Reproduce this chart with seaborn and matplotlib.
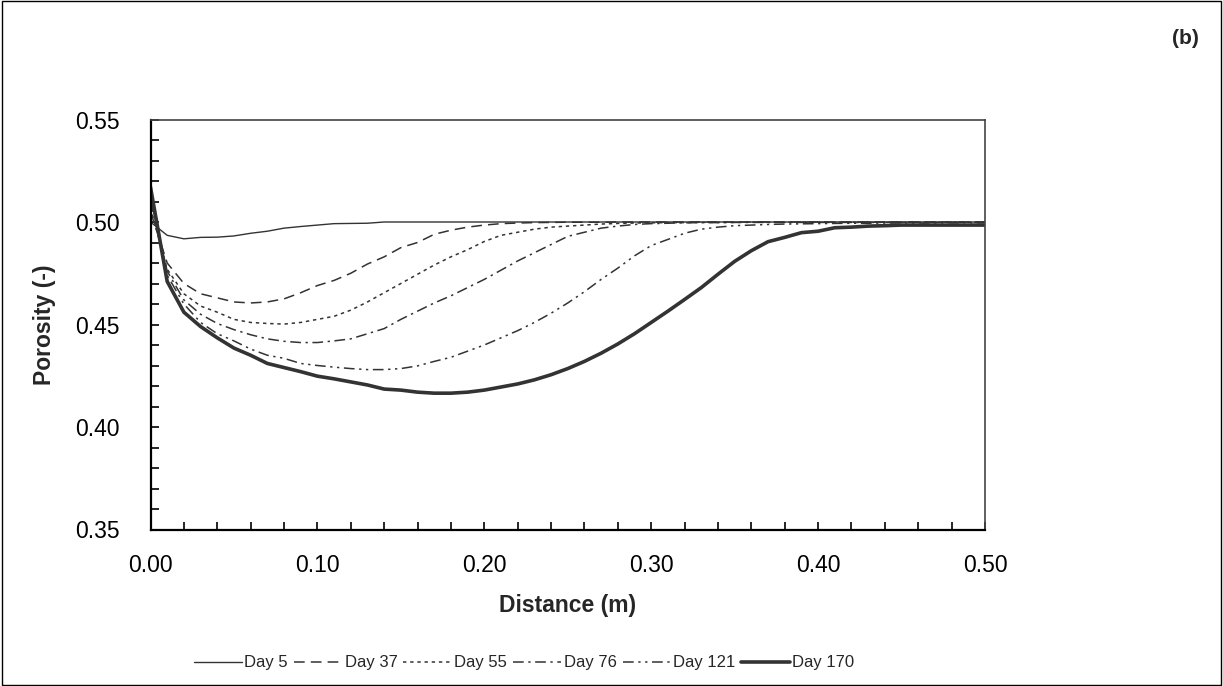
import matplotlib
matplotlib.use("Agg")
import matplotlib.pyplot as plt
import seaborn as sns
import pandas as pd
from matplotlib.ticker import MultipleLocator, FormatStrFormatter
from matplotlib.patches import Rectangle

distance = [0.00, 0.01, 0.02, 0.03, 0.04, 0.05, 0.06, 0.07, 0.08, 0.09,
            0.10, 0.11, 0.12, 0.13, 0.14, 0.15, 0.16, 0.17, 0.18, 0.19,
            0.20, 0.21, 0.22, 0.23, 0.24, 0.25, 0.26, 0.27, 0.28, 0.29,
            0.30, 0.31, 0.32, 0.33, 0.34, 0.35, 0.36, 0.37, 0.38, 0.39,
            0.40, 0.41, 0.42, 0.43, 0.44, 0.45, 0.46, 0.47, 0.48, 0.49, 0.50]

day5 = [0.500, 0.4935, 0.4918, 0.4925, 0.4926, 0.4932, 0.4945, 0.4955, 0.4970, 0.4978,
        0.4985, 0.4992, 0.4993, 0.4994, 0.5000, 0.5000, 0.5000, 0.5000, 0.5000, 0.5000,
        0.5000, 0.5000, 0.5000, 0.5000, 0.5000, 0.5000, 0.5000, 0.5000, 0.5000, 0.5000,
        0.5000, 0.5000, 0.5000, 0.5000, 0.5000, 0.5000, 0.5000, 0.5000, 0.5000, 0.5000,
        0.5000, 0.5000, 0.5000, 0.5000, 0.5000, 0.5000, 0.5000, 0.5000, 0.5000, 0.5000, 0.5000]

day37 = [0.505, 0.480, 0.470, 0.465, 0.463, 0.461, 0.4605, 0.461, 0.4625, 0.4655,
         0.469, 0.4715, 0.475, 0.4795, 0.483, 0.4875, 0.490, 0.494, 0.496, 0.4975,
         0.4985, 0.4992, 0.4995, 0.4997, 0.4998, 0.4999, 0.4999, 0.4999, 0.5000, 0.5000,
         0.5000, 0.5000, 0.5000, 0.5000, 0.5000, 0.5000, 0.5000, 0.5000, 0.5000, 0.5000,
         0.5000, 0.5000, 0.5000, 0.5000, 0.5000, 0.5000, 0.5000, 0.5000, 0.5000, 0.5000, 0.5000]

day55 = [0.507, 0.477, 0.465, 0.459, 0.456, 0.4525, 0.451, 0.4505, 0.4502, 0.451,
         0.4525, 0.454, 0.457, 0.461, 0.4655, 0.470, 0.4745, 0.479, 0.483, 0.4865,
         0.4905, 0.4935, 0.495, 0.4965, 0.4975, 0.498, 0.4985, 0.499, 0.4993, 0.4995,
         0.4996, 0.4997, 0.4997, 0.4998, 0.4998, 0.4998, 0.4999, 0.4999, 0.4999, 0.4999,
         0.4999, 0.4999, 0.4999, 0.4999, 0.4999, 0.4999, 0.4999, 0.4999, 0.4999, 0.4999, 0.4999]

day76 = [0.510, 0.476, 0.462, 0.455, 0.4505, 0.4475, 0.445, 0.443, 0.4418, 0.4412,
         0.4412, 0.442, 0.443, 0.4455, 0.448, 0.4525, 0.4565, 0.4605, 0.464, 0.468,
         0.472, 0.4765, 0.481, 0.485, 0.489, 0.493, 0.495, 0.497, 0.498, 0.4988,
         0.4992, 0.4994, 0.4996, 0.4997, 0.4997, 0.4998, 0.4998, 0.4998, 0.4998, 0.4998,
         0.4998, 0.4998, 0.4998, 0.4998, 0.4998, 0.4998, 0.4998, 0.4998, 0.4998, 0.4998, 0.4998]

day121 = [0.512, 0.474, 0.460, 0.451, 0.4455, 0.442, 0.438, 0.435, 0.4335, 0.431,
          0.430, 0.4292, 0.4285, 0.428, 0.428, 0.4285, 0.4298, 0.432, 0.434, 0.437,
          0.440, 0.4435, 0.447, 0.451, 0.4555, 0.4605, 0.466, 0.472, 0.4775, 0.4835,
          0.4885, 0.4915, 0.4945, 0.4965, 0.4975, 0.4982, 0.4985, 0.4988, 0.4990, 0.4991,
          0.4992, 0.4993, 0.4994, 0.4994, 0.4995, 0.4995, 0.4995, 0.4995, 0.4996, 0.4996, 0.4996]

day170 = [0.517, 0.471, 0.456, 0.449, 0.4435, 0.4385, 0.435, 0.431, 0.429, 0.427,
          0.4248, 0.4235, 0.422, 0.4205, 0.4185, 0.418, 0.417, 0.4165, 0.4165, 0.417,
          0.418, 0.4195, 0.421, 0.423, 0.4255, 0.4285, 0.432, 0.436, 0.4405, 0.4455,
          0.451, 0.4565, 0.4622, 0.468, 0.4745, 0.4808, 0.486, 0.4904, 0.4925, 0.4948,
          0.4955, 0.4972, 0.4975, 0.498, 0.4982, 0.4985, 0.4985, 0.4985, 0.4985, 0.4985, 0.4985]

series_labels = ["Day 5", "Day 37", "Day 55", "Day 76", "Day 121", "Day 170"]
series_values = [day5, day37, day55, day76, day121, day170]

styles = {
    "Day 5": dict(lw=1.0, ls="-"),
    "Day 37": dict(lw=1.1, ls=(0, (7, 4))),
    "Day 55": dict(lw=1.1, ls=(0, (2.2, 2.5))),
    "Day 76": dict(lw=1.1, ls=(0, (7, 3, 1.5, 3))),
    "Day 121": dict(lw=1.1, ls=(0, (7, 3, 1.5, 3, 1.5, 3))),
    "Day 170": dict(lw=2.6, ls="-"),
}

sns.set_style("white")
plt.rcParams["font.family"] = ["Liberation Sans", "DejaVu Sans"]

fig = plt.figure(figsize=(12.23, 6.86), dpi=100)
ax = fig.add_axes([150.5 / 1223, 1 - 529.5 / 686, (985 - 150.5) / 1223, (529.5 - 119.5) / 686])

color = "#333333"
for lab, vals in zip(series_labels, series_values):
    df = pd.DataFrame({"Distance": distance, "Porosity": vals})
    st = styles[lab]
    sns.lineplot(data=df, x="Distance", y="Porosity", ax=ax, color=color,
                 linewidth=st["lw"], linestyle=st["ls"], label=lab, legend=False)

ax.set_xlim(0, 0.5)
ax.set_ylim(0.35, 0.55)
ax.xaxis.set_major_locator(MultipleLocator(0.1))
ax.xaxis.set_minor_locator(MultipleLocator(0.02))
ax.yaxis.set_major_locator(MultipleLocator(0.05))
ax.yaxis.set_minor_locator(MultipleLocator(0.01))
ax.xaxis.set_major_formatter(FormatStrFormatter("%.2f"))
ax.yaxis.set_major_formatter(FormatStrFormatter("%.2f"))
ax.tick_params(which="both", direction="in", length=6, width=1.2, color="black",
               labelsize=16.5, labelcolor="black")
ax.tick_params(axis="x", which="both", pad=18, bottom=True, top=False)
ax.tick_params(axis="y", which="both", pad=22, left=True, right=False)

for side in ["left", "bottom"]:
    ax.spines[side].set_color("black")
    ax.spines[side].set_linewidth(1.6)
for side in ["top", "right"]:
    ax.spines[side].set_color("#444444")
    ax.spines[side].set_linewidth(1.2)

ax.set_xlabel("Distance (m)", fontsize=16.5, fontweight="bold", labelpad=12)
ax.set_ylabel("Porosity (-)", fontsize=16.5, fontweight="bold", labelpad=14)

handles, labels = ax.get_legend_handles_labels()
fig.legend(handles, labels, loc="center", bbox_to_anchor=(524 / 1223, 1 - 663 / 686),
           ncol=6, frameon=False, fontsize=12, handlelength=2.9, handletextpad=0.15,
           columnspacing=0.35)

fig.text(1185 / 1223, 1 - 38 / 686, "(b)", fontsize=15, fontweight="bold",
         ha="center", va="center")

fig.patches.append(Rectangle((0.002, 0.002), 0.996, 0.996, transform=fig.transFigure,
                             fill=False, edgecolor="black", linewidth=1.0))

fig.savefig("out.png", dpi=100)
